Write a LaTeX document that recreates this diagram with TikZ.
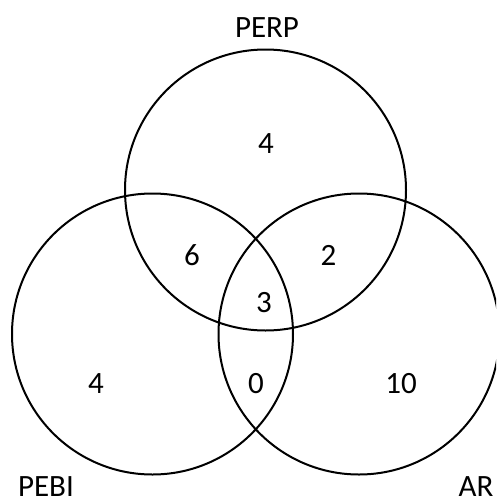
\documentclass[tikz,border=0pt]{standalone}
\usepackage{fontspec}
\setmainfont{Carlito}
\begin{document}
\begin{tikzpicture}[x=1pt,y=-1pt,
  setc/.style={draw=black,line width=2pt,circle,inner sep=0pt,minimum size=281pt},
  lbl/.style={anchor=base,inner sep=0pt,text depth=0pt,font=\fontsize{31}{31}\selectfont}]
\useasboundingbox (0,0) rectangle (496,501);
\begin{scope}
\clip (0,0) rectangle (496,501);
\node[setc] (perpc) at (265.5,190) {};
\node[setc] (pebic) at (152.5,334) {};
\node[setc] (arc) at (359,334) {};
\end{scope}
\node[lbl] (perp) at (267,37) {PERP};
\node[lbl] (pebi) at (46,496) {PEBI};
\node[lbl] (ar) at (476,496) {AR};
\node[lbl] (nperp) at (266,153) {4};
\node[lbl] (n6) at (192,265) {6};
\node[lbl] (n2) at (328.5,265) {2};
\node[lbl] (n3) at (264,312) {3};
\node[lbl] (npebi) at (96,393) {4};
\node[lbl] (n0) at (256,393) {0};
\node[lbl] (nar) at (401,393) {10};
\end{tikzpicture}
\end{document}
